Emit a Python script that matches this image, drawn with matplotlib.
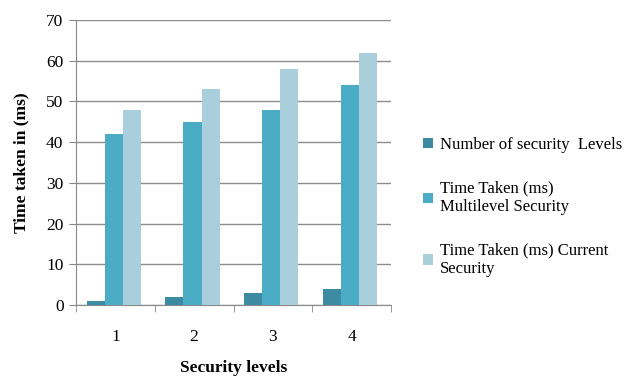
import numpy as np
import matplotlib
matplotlib.use("Agg")
from matplotlib import pyplot as plt

categories = ["1", "2", "3", "4"]
num_levels = [1, 2, 3, 4]
multilevel = [42, 45, 48, 54]
current = [48, 53, 58, 62]
labels = ["Number of security  Levels",
          "Time Taken (ms)\nMultilevel Security",
          "Time Taken (ms) Current\nSecurity"]
colors = ["#3c8ba2", "#4bacc6", "#a9cfdd"]

plt.rcParams["font.family"] = ["Liberation Serif", "DejaVu Serif"]

fig = plt.figure(figsize=(6.33, 3.78), dpi=100)
ax = fig.add_axes([76 / 633, 1 - 305 / 378, 315 / 633, 285 / 378])

x = np.arange(len(categories))
w = 0.23
for i, vals in enumerate([num_levels, multilevel, current]):
    ax.bar(x + (i - 1) * w - 0.02, vals, w, color=colors[i], label=labels[i], zorder=3)

ax.set_xlim(-0.5, 3.5)
ax.set_ylim(0, 70)
ax.set_yticks(range(0, 71, 10))
ax.set_xticks(x)
ax.set_xticklabels(categories, fontsize=12.5)
ax.set_xticks(np.arange(-0.5, 4, 1), minor=True)
ax.tick_params(axis="x", which="major", length=0, pad=17)
ax.tick_params(axis="x", which="minor", length=5, color="#888888")
ax.tick_params(axis="y", length=5, color="#888888", labelsize=12.5, pad=4)
ax.grid(axis="y", color="#8c8c8c", linewidth=1, zorder=0)
for s in ["top", "right"]:
    ax.spines[s].set_visible(False)
ax.spines["left"].set_color("#888888")
ax.spines["bottom"].set_color("#888888")

ax.set_ylabel("Time taken in (ms)", fontsize=12.5, fontweight="bold", labelpad=12)
ax.set_xlabel("Security levels", fontsize=12.5, fontweight="bold", labelpad=11)

fig.legend(loc="upper left", bbox_to_anchor=(408 / 633, 1 - 122 / 378), frameon=False,
           fontsize=12, handlelength=0.6, handleheight=0.6, handletextpad=0.4,
           labelspacing=1.65)

fig.savefig("out.png", dpi=100)
